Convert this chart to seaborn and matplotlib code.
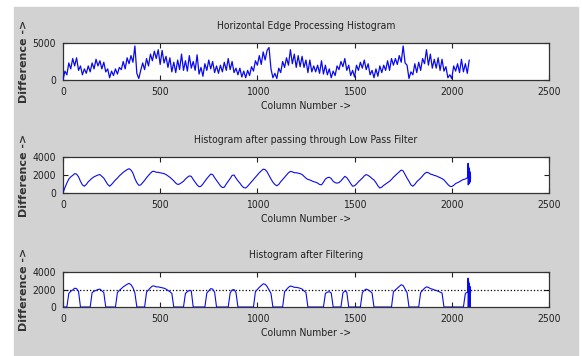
import matplotlib
matplotlib.use('Agg')
import matplotlib.pyplot as plt
import numpy as np
import seaborn as sns
from matplotlib import font_manager
from matplotlib.patches import Rectangle

# raw horizontal edge histogram, one value every 10 columns
raw_col = np.arange(0, 2100, 10)
raw_val = [
    0, 1200, 700, 2300, 1500, 2900, 1900, 3000, 1300, 1900,
    700, 1500, 900, 1900, 1100, 2300, 1500, 2800, 1900, 2600,
    1500, 2400, 1100, 1500, 300, 1200, 600, 1500, 800, 1700,
    1400, 2500, 1500, 3000, 2200, 3300, 2400, 4600, 900, 200,
    1300, 2300, 1400, 2900, 1900, 3500, 2600, 3900, 2900, 4100,
    2100, 4000, 2300, 3200, 1700, 3000, 1100, 2400, 1000, 2700,
    1400, 3500, 1300, 2600, 1200, 3300, 1600, 2500, 1300, 3400,
    800, 1700, 500, 2200, 1300, 2700, 1500, 2500, 1000, 1900,
    900, 2000, 1100, 2400, 1300, 2900, 1400, 2500, 1000, 1600,
    700, 1600, 400, 1200, 300, 1300, 600, 1800, 1200, 2600,
    2000, 3300, 2100, 3800, 2700, 4000, 4400, 1500, 300, 900,
    200, 1600, 1000, 2500, 1700, 3000, 2000, 4100, 2200, 3500,
    1700, 3300, 1800, 3200, 1700, 2700, 1000, 2700, 1100, 1900,
    1100, 2000, 900, 2600, 800, 2000, 700, 1500, 300, 1200,
    600, 1900, 1400, 2500, 1800, 2900, 1300, 2000, 600, 1300,
    400, 2000, 1300, 2400, 1600, 2700, 1400, 2200, 700, 1300,
    300, 1500, 500, 1900, 1000, 2000, 1300, 2600, 1300, 2900,
    2000, 2900, 2100, 3300, 2400, 4600, 2300, 2000, 200, 1100,
    700, 2200, 1000, 2400, 1300, 2900, 2200, 4100, 2000, 3500,
    1600, 2800, 1600, 3000, 1300, 2800, 1200, 1800, 300, 700,
    200, 1900, 1200, 2200, 1000, 2800, 1100, 2200, 900, 2700,
]

# low pass filtered histogram, every 10 columns
lp_col = np.arange(0, 2090, 10)
lp_val = [
    0, 600, 1100, 1550, 1800, 1950, 2150, 2100, 1800, 1300,
    900, 750, 950, 1250, 1450, 1650, 1800, 1900, 2000, 2050,
    1850, 1650, 1300, 950, 750, 950, 1200, 1450, 1650, 1900,
    2100, 2300, 2450, 2600, 2700, 2550, 2200, 1600, 1150, 850,
    900, 1150, 1400, 1700, 1950, 2200, 2400, 2400, 2300, 2300,
    2250, 2200, 2150, 2050, 1900, 1750, 1550, 1350, 1100, 950,
    1000, 1150, 1300, 1550, 1750, 1900, 1850, 1500, 1200, 900,
    700, 750, 1000, 1300, 1600, 1850, 2100, 2050, 1700, 1400,
    1100, 800, 600, 650, 1000, 1300, 1600, 1950, 2000, 1650,
    1350, 1100, 800, 600, 550, 750, 1000, 1250, 1500, 1750,
    2000, 2250, 2450, 2650, 2600, 2350, 1950, 1550, 1200, 950,
    800, 950, 1250, 1500, 1750, 2000, 2250, 2400, 2350, 2250,
    2250, 2200, 2150, 2050, 1850, 1650, 1500, 1450, 1350, 1250,
    1200, 1100, 950, 900, 1200, 1550, 1700, 1750, 1600, 1300,
    1150, 1100, 1150, 1350, 1600, 1850, 1700, 1400, 1050, 750,
    800, 1000, 1250, 1450, 1650, 1900, 2050, 1950, 1800, 1600,
    1450, 1150, 800, 550, 650, 850, 1000, 1150, 1300, 1500,
    1750, 1950, 2150, 2350, 2550, 2450, 2050, 1650, 1300, 900,
    750, 950, 1250, 1450, 1650, 1900, 2150, 2300, 2250, 2100,
    2050, 1950, 1900, 1800, 1700, 1600, 1450, 1200, 950, 750,
    720, 850, 1050, 1150, 1250, 1400, 1500, 1550, 1700,
]
# ringing at the right end of the filtered signal
spike_col = [2082, 2084, 2085, 2087, 2088, 2090, 2091, 2093, 2094, 2096, 2097]
spike_val = [1700, 3300, 900, 2900, 1000, 2700, 1100, 2400, 1200, 2200, 1600]

filter_threshold = 1500
level_line = 2000

titles = ['Horizontal Edge Processing Histogram',
          'Histogram after passing through Low Pass Filter',
          'Histogram after Filtering']
y_limits = [5000, 4000, 4000]
y_ticks = [[0, 5000], [0, 2000, 4000], [0, 2000, 4000]]
x_ticks = [0, 500, 1000, 1500, 2000, 2500]

lp_all_col = np.concatenate([lp_col, spike_col])
lp_all_val = np.concatenate([lp_val, spike_val])
filt_val = np.where(lp_all_val > filter_threshold, lp_all_val, 0)

sns.set_style('ticks')

# matlab used a narrow font here; pick the narrowest one available
installed = font_manager.fontManager.ttflist
names = {f.name for f in installed}
stretch = 'normal'
if 'Liberation Sans Narrow' in names:
    narrow_family, txt_size = 'Liberation Sans Narrow', 8
elif any(f.name == 'DejaVu Sans' and 'condensed' in str(f.stretch) for f in installed):
    narrow_family, txt_size, stretch = 'DejaVu Sans', 7.5, 'condensed'
else:
    narrow_family, txt_size = 'Liberation Sans', 7
plt.rcParams['font.family'] = [narrow_family, 'DejaVu Sans']
plt.rcParams['font.stretch'] = stretch

fig = plt.figure(figsize=(5.82, 3.56), dpi=100, facecolor='white')
# grey matlab-like window area
bg = Rectangle((14 / 582, 0), 564 / 582, 349 / 356,
               transform=fig.transFigure, color='#d2d2d2', zorder=-5)
fig.add_artist(bg)

# axes boxes [left, bottom, width, height]
boxes = [[0.1082, 0.7753, 0.835, 0.1039],
         [0.1082, 0.4579, 0.835, 0.1011],
         [0.1082, 0.1376, 0.835, 0.0983]]
series = [(raw_col, raw_val), (lp_all_col, lp_all_val), (lp_all_col, filt_val)]
widths = [0.9, 0.8, 0.8]

for i, (box, (xs, ys)) in enumerate(zip(boxes, series)):
    ax = fig.add_axes(box)
    ax.set_zorder(1)
    ax.set_facecolor('white')
    sns.lineplot(x=xs, y=ys, ax=ax, color='#0a0aee', linewidth=widths[i],
                 estimator=None, zorder=3)
    if i == 2:
        ax.axhline(level_line, color='black', linestyle=':', linewidth=0.9)
    ax.set_xlim(0, 2500)
    ax.set_ylim(0, y_limits[i])
    ax.set_xticks(x_ticks)
    ax.set_yticks(y_ticks[i])
    ax.tick_params(direction='in', top=True, right=True, length=3.5, width=0.8,
                   labelsize=txt_size, pad=5, colors='#222222')
    for s in ax.spines.values():
        s.set_color('#333333')
        s.set_linewidth(0.9)
    ax.set_title(titles[i], fontsize=txt_size, pad=10, color='#222222')
    ax.set_xlabel('Column Number ->', fontsize=txt_size, color='#222222', labelpad=3)
    ax.set_ylabel('Difference ->', fontsize=8, color='#333333',
                  family=['DejaVu Sans'], fontweight='bold', fontstretch='normal')
    ax.yaxis.set_label_coords(-0.07, 0.5)

fig.savefig('out.png', dpi=100, facecolor=fig.get_facecolor())
